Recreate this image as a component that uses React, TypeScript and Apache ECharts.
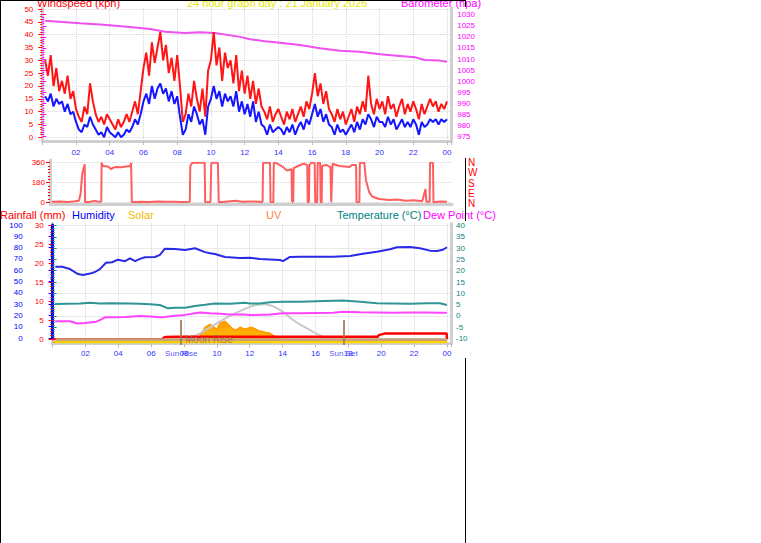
import React, { useEffect, useRef } from "react";
import * as echarts from "echarts";

// ---------- DATA ----------
// wind speed, 10-minute readings from 00:10 to 24:00 (kph)
const windGust = [
  30, 24, 32, 20, 27, 18,
  22, 17, 24, 15, 18, 11,
  8, 6, 12, 9, 21, 14,
  9, 6, 8, 5, 9, 7,
  5, 3, 7, 4, 6, 9,
  6, 10, 14, 9, 18, 27,
  33, 24, 37, 29, 35, 41,
  30, 36, 25, 31, 22, 32,
  20, 6, 9, 17, 12, 22,
  15, 10, 19, 8, 26, 30,
  41, 28, 35, 22, 33, 27,
  30, 21, 32, 18, 26, 17,
  24, 15, 22, 13, 19, 12,
  10, 7, 12, 6, 9, 11,
  8, 5, 10, 7, 11, 6,
  9, 12, 8, 14, 11, 17,
  25, 16, 21, 13, 18, 11,
  9, 6, 11, 7, 10, 5,
  8, 11, 6, 12, 9, 14,
  10, 24, 13, 9, 15, 11,
  14, 9, 16, 11, 13, 8,
  12, 15, 9, 13, 10, 14,
  11, 7, 13, 9, 12, 15,
  12, 14, 10, 13, 11, 14,
];
const windAvg = [
  16, 14, 17, 12, 15, 13,
  14, 10, 13, 9, 10, 6,
  3, 2, 5, 4, 8, 5,
  3, 1, 2, 0, 4, 2,
  1, 0, 2, 0, 1, 3,
  2, 4, 7, 5, 9, 14,
  17, 13, 20, 15, 19, 21,
  17, 19, 14, 18, 13, 16,
  8, 1, 3, 9, 6, 12,
  9, 5, 7, 1, 12, 15,
  20, 15, 18, 12, 17, 14,
  16, 12, 18, 10, 14, 9,
  13, 8, 14, 6, 10, 5,
  4, 1, 5, 2, 3, 4,
  3, 1, 4, 2, 5, 1,
  4, 6, 3, 7, 5, 9,
  13, 8, 11, 6, 9, 5,
  4, 1, 5, 2, 3, 1,
  3, 5, 2, 6, 3, 7,
  5, 9, 7, 4, 8, 6,
  6, 4, 8, 5, 7, 3,
  5, 7, 4, 6, 4, 7,
  5, 1, 6, 4, 5, 7,
  6, 7, 5, 7, 6, 7,
];
const baroTimes = [0.17, 2.24, 3.42, 5.2, 6.39, 7.28, 8.46, 9.35, 10.24, 11.73, 12.32, 13.21, 14.1, 15.28, 16.47, 17.66, 18.84, 20.03, 21.21, 22.1, 22.69, 23.58, 24.0];
const baroValues = [1027.3, 1026.1, 1025.6, 1024.5, 1023.6, 1022.3, 1021.8, 1022.1, 1021.8, 1020.0, 1018.9, 1018.0, 1017.4, 1016.3, 1014.9, 1013.8, 1013.3, 1012.2, 1011.4, 1010.8, 1009.6, 1009.3, 1008.8];

// wind direction [hour, degrees]
const dirPoints: [number, number][] = [
  [0.12, 5], [0.6, 8], [1.1, 3], [1.5, 10], [1.75, 15], [1.85, 80], [1.95, 260], [2.05, 320], [2.1, 345], [2.12, 0],
  [2.4, 5], [2.7, 12], [3.0, 4], [3.1, 8], [3.12, 360], [3.2, 330], [3.5, 325], [3.7, 300], [3.8, 315], [4.0, 320],
  [4.3, 318], [4.6, 325], [4.85, 330], [4.9, 360], [4.95, 0], [5.5, 5], [6.0, 3], [6.5, 8], [7.0, 4], [7.5, 6],
  [8.0, 3], [8.45, 5], [8.48, 330], [8.6, 360], [9.35, 360], [9.38, 0], [9.7, 2], [9.75, 355], [9.85, 360], [10.15, 360],
  [10.2, 0], [10.6, 6], [11.2, 15], [11.6, 5], [12.3, 8], [12.85, 3], [12.88, 360], [13.3, 360], [13.33, 0], [13.5, 0],
  [13.53, 360], [13.7, 355], [14.1, 320], [14.3, 290], [14.6, 300], [14.63, 5], [14.7, 5], [14.73, 310], [15.0, 330], [15.3, 350],
  [15.55, 340], [15.58, 0], [15.65, 0], [15.68, 340], [15.8, 360], [16.0, 360], [16.03, 0], [16.15, 0], [16.18, 360], [16.33, 360],
  [16.36, 0], [16.42, 0], [16.45, 330], [16.7, 340], [16.95, 320], [17.0, 0], [17.08, 350], [17.5, 330], [18.1, 320], [18.25, 340],
  [18.5, 340], [18.53, 0], [18.7, 0], [18.73, 360], [19.0, 360], [19.1, 200], [19.3, 90], [19.5, 50], [19.9, 30], [20.5, 20],
  [21.0, 25], [21.5, 15], [22.0, 18], [22.5, 10], [22.7, 120], [22.75, 5], [22.95, 5], [22.97, 360], [23.15, 360], [23.18, 0],
  [23.6, 8], [24.0, 5],
];

const humTimes = [0.17, 0.57, 1.06, 1.55, 1.85, 2.28, 2.58, 2.88, 3.25, 3.62, 3.98, 4.41, 4.71, 5.02, 5.32, 5.62, 6.23, 6.53, 6.84, 7.45, 8.06, 8.67, 9.28, 9.58, 9.88, 10.49, 11.41, 12.02, 12.62, 13.84, 14.02, 14.45, 15.06, 16.09, 17.07, 18.1, 18.89, 19.74, 20.54, 20.96, 21.75, 22.36, 22.97, 23.4, 23.76, 24.0];
const humValues = [63, 63, 61, 56.6, 55.8, 57, 58.4, 61, 66.6, 67, 69.3, 68, 70.5, 68, 70, 71.4, 71.7, 73.5, 79, 78.8, 77.9, 79.4, 76, 75, 74.3, 71.7, 70.8, 71, 70, 69, 68, 71.7, 72, 72, 72, 72.6, 74.6, 76.4, 78.5, 80.3, 80.5, 79.4, 77.3, 77, 78.1, 80.3];

const tempTimes = [0.15, 1.67, 2.28, 2.88, 3.49, 4.71, 5.32, 5.93, 6.53, 7.02, 7.45, 8.06, 8.67, 9.28, 9.88, 10.8, 11.71, 12.02, 12.62, 13.23, 14.02, 15.06, 16.09, 17.07, 17.67, 18.71, 19.74, 20.72, 21.75, 22.79, 23.58, 24.0];
const tempValues = [5.2, 5.5, 5.8, 5.4, 5.6, 5.4, 5.3, 5.1, 4.8, 3.3, 3.6, 3.6, 4.3, 4.9, 5.5, 5.3, 5.8, 5.5, 5.5, 6.0, 6.2, 6.2, 6.5, 6.7, 6.8, 6.2, 5.6, 5.5, 5.3, 5.6, 5.6, 4.8];

const dewTimes = [0.15, 1.06, 1.49, 1.97, 2.58, 2.88, 3.19, 3.8, 4.41, 5.32, 5.93, 6.53, 6.84, 7.45, 8.06, 8.67, 8.97, 9.58, 10.19, 10.8, 11.71, 12.02, 13.23, 14.02, 15.06, 16.09, 17.07, 17.67, 18.71, 19.74, 20.72, 21.75, 22.79, 23.58, 24.0];
const dewValues = [-2.4, -2.4, -3.4, -3.2, -2.8, -1.9, -0.7, -0.6, -0.5, -0.1, -0.3, -0.6, -0.5, 0, 0.4, 1.1, 1.5, 1.1, 0.9, 0.6, 0.6, 0.3, 0.6, 1.1, 1.1, 1.2, 1.3, 1.8, 1.6, 1.5, 1.3, 1.5, 1.5, 1.3, 1.3];

const rainTimes = [0.0, 6.7, 6.75, 6.9, 7.5, 19.8, 19.85, 20.2, 23.99, 24.0];
const rainValues = [0, 0, 0.4, 0.6, 0.7, 0.7, 1.1, 1.5, 1.5, 0];

const solarTimes = [0.0, 8.36, 8.67, 8.97, 9.28, 9.58, 9.76, 10.0, 10.19, 10.49, 10.68, 10.92, 11.16, 11.41, 11.71, 11.89, 12.14, 12.38, 12.62, 12.93, 13.23, 13.54, 13.84, 14.45, 15.06, 15.67, 16.27, 16.88, 17.18, 24.0];
const solarValues = [0, 0, 10, 60, 150, 180, 160, 130, 190, 210, 180, 140, 120, 150, 130, 140, 150, 130, 110, 100, 90, 60, 30, 20, 15, 10, 8, 3, 0, 0];

const sunCurveTimes = [8.06, 8.97, 9.88, 10.8, 11.71, 12.32, 12.74, 13.23, 14.02, 14.75, 15.48, 16.27, 17.18];
const sunCurveValues = [20, 90, 180, 265, 335, 370, 380, 370, 305, 210, 140, 70, 15];

const uvTimes = [0.17, 24.0];
const uvValues = [0, 0];

const sunRise = 7.83;
const sunSet = 17.7;
const moonRise = 8.06;

const hourLabel = (v: number) =>
  Number.isInteger(v) && v > 0 && v <= 24 && v % 2 === 0 ? String(v % 24).padStart(2, "0") : "";

const FONT = "'Liberation Sans', Arial, sans-serif";
const GREY = "#cfcfcf";
const DOT = { show: true, lineStyle: { color: "#d6d6d6", type: "dotted" as const, width: 1 } };

const P1 = { left: 42.3, width: 408.9 };
const P2 = { left: 50, width: 402 };
const P3 = { left: 52.6, width: 398.4 };

const zip = (a: number[], b: number[]) => a.map((t, i) => [t, b[i]]);

export default function App() {
  const ref = useRef<HTMLDivElement>(null);
  useEffect(() => {
    if (!ref.current) return;
    const chart = echarts.init(ref.current, undefined, { renderer: "svg" });

    const gridBase = { containLabel: false, outerBoundsMode: "none" };
    const grids = [
      { ...P1, top: 8, height: 133 }, // 0 frame p1
      { ...P1, top: 9, height: 128.3 }, // 1 wind
      { ...P1, top: 14.7, height: 122 }, // 2 baro
      { ...P2, top: 160, height: 44 }, // 3 frame p2
      { ...P2, top: 162.7, height: 39.6 }, // 4 dir
      { ...P3, top: 223.5, height: 120 }, // 5 frame p3
      { ...P3, top: 225.7, height: 112.6 }, // 6 temp
      { ...P3, top: 225, height: 113 }, // 7 humidity
      { ...P3, top: 225, height: 114.3 }, // 8 rain
      { ...P3, top: 222.3, height: 120 }, // 9 solar
      { ...P3, top: 219.8, height: 120 }, // 10 uv
      { ...P3, top: 320, height: 25 }, // 11 markers
    ].map((g) => ({ ...gridBase, ...g }));

    const hiddenX = (gi: number, max = 24.25) => ({ type: "value", gridIndex: gi, min: 0, max, show: false });
    const frameX = (gi: number, labels: boolean, margin: number, max = 24.25) => ({
      type: "value",
      gridIndex: gi,
      min: 0,
      max,
      interval: 2,
      axisLine: { show: true, lineStyle: { color: GREY, width: 3 } },
      axisTick: { show: labels, length: 4, lineStyle: { color: "#bdbdbd", width: 1 } },
      axisLabel: labels
        ? { show: true, formatter: hourLabel, color: "#2f2fff", fontSize: 8, fontFamily: FONT, margin }
        : { show: false },
      splitLine: labels ? DOT : { show: false },
    });

    const frameY = (gi: number, pos: string) => ({
      type: "value",
      gridIndex: gi,
      position: pos,
      min: 0,
      max: 1,
      axisLine: { show: true, lineStyle: { color: GREY, width: 3 } },
      axisTick: { show: false },
      axisLabel: { show: false },
      splitLine: { show: false },
    });

    const plain = (v: number) => String(v);
    const scaleY = (gi: number, pos: string, min: number, max: number, interval: number, color: string, margin: number, minorSplit: number, extra: any = {}) => ({
      type: "value",
      gridIndex: gi,
      position: pos,
      min,
      max,
      interval,
      axisLine: { show: false },
      axisTick: { show: true, length: 4, lineStyle: { color, width: 1 } },
      minorTick: { show: true, splitNumber: minorSplit, length: 2, lineStyle: { color, width: 1 } },
      axisLabel: { show: true, color, fontSize: 8, fontFamily: FONT, margin, formatter: plain },
      splitLine: { show: false },
      ...extra,
    });

    const splitOnlyY = (gi: number, min: number, max: number, interval: number) => ({
      type: "value",
      gridIndex: gi,
      min,
      max,
      interval,
      axisLine: { show: false },
      axisTick: { show: false },
      axisLabel: { show: false },
      splitLine: DOT,
    });

    const hiddenY = (gi: number, min: number, max: number) => ({ type: "value", gridIndex: gi, min, max, show: false });

    const xAxis = [
      frameX(0, true, 7),
      hiddenX(1),
      hiddenX(2),
      frameX(3, false, 0, 24.3),
      hiddenX(4, 24.3),
      frameX(5, true, 6),
      hiddenX(6),
      hiddenX(7),
      hiddenX(8),
      hiddenX(9),
      hiddenX(10),
      hiddenX(11),
    ];

    const yAxis = [
      frameY(0, "left"), // 0
      frameY(0, "right"), // 1
      scaleY(1, "left", 0, 50, 5, "#ff0000", 9, 5), // 2 wind
      splitOnlyY(1, 0, 50, 10), // 3
      scaleY(2, "right", 975, 1030, 5, "#ff00ff", 6, 5), // 4 baro
      frameY(3, "left"), // 5
      scaleY(4, "left", 0, 360, 180, "#ff0000", 5, 6, { splitLine: DOT }), // 6 dir
      frameY(5, "left"), // 7
      frameY(5, "right"), // 8
      scaleY(6, "right", -10, 40, 5, "#108585", 5, 5), // 9 temp
      splitOnlyY(6, -10, 40, 10), // 10
      scaleY(7, "left", 0, 100, 10, "#0000ff", 7, 5, {
        offset: 23,
        axisLine: { show: true, lineStyle: { color: "#0000ff", width: 3 } },
      }), // 11 humidity
      scaleY(8, "left", 0, 30, 5, "#ff0000", 9, 5), // 12 rain
      hiddenY(9, 0, 1200), // 13 solar
      hiddenY(10, 0, 16), // 14 uv
      hiddenY(11, 0, 1), // 15 markers
    ];

    const line = (name: string, xi: number, yi: number, data: any[], color: string, width: number, extra: any = {}) => ({
      name,
      type: "line",
      xAxisIndex: xi,
      yAxisIndex: yi,
      data,
      symbol: "none",
      showSymbol: false,
      lineStyle: { color, width },
      itemStyle: { color },
      silent: true,
      ...extra,
    });

    const windTimes = windGust.map((_, i) => (i + 1) / 6);

    const series: any[] = [
      line("Barometer", 2, 4, zip(baroTimes, baroValues), "#f050f0", 2),
      line("Gust", 1, 2, zip(windTimes, windGust), "#ff1515", 2),
      line("Average", 1, 2, zip(windTimes, windAvg), "#1515ff", 2),
      line("Direction", 4, 6, dirPoints, "#ff5e5e", 2),
      line("Solar", 9, 13, zip(solarTimes, solarValues), "#ff9800", 1.5, {
        areaStyle: {
          opacity: 1,
          color: new echarts.graphic.LinearGradient(0, 0, 0, 1, [
            { offset: 0, color: "#ff9a00" },
            { offset: 1, color: "#ffc400" },
          ]),
        },
      }),
      line("SunCurve", 9, 13, zip(sunCurveTimes, sunCurveValues), "#c8c8c8", 2, { smooth: true }),
      line("Humidity", 7, 11, zip(humTimes, humValues), "#2a2ae6", 2),
      line("Temperature", 6, 9, zip(tempTimes, tempValues), "#2f9595", 2),
      line("DewPoint", 6, 9, zip(dewTimes, dewValues), "#ff44ff", 2),
      line("Rain", 8, 12, zip(rainTimes, rainValues), "#ff0000", 2.5),
      line("SolarBase", 9, 13, zip(uvTimes, uvValues), "#ffd400", 2.5),
      line("UV", 10, 14, zip(uvTimes, uvValues), "#c9a07c", 3),
      {
        type: "line",
        xAxisIndex: 11,
        yAxisIndex: 15,
        data: [],
        silent: true,
        markLine: {
          silent: true,
          symbol: "none",
          lineStyle: { color: "#a07a55", width: 2, type: "solid", opacity: 0.85 },
          label: { show: true, position: "start", distance: 4, color: "#2f2fff", fontSize: 8, fontFamily: FONT },
          data: [
            { xAxis: sunRise, label: { formatter: "Sun Rise" } },
            { xAxis: sunSet, label: { formatter: "Sun Set" } },
          ],
        },
      },
      {
        type: "scatter",
        xAxisIndex: 10,
        yAxisIndex: 14,
        data: [[moonRise, 0]],
        symbolSize: 0,
        silent: true,
        z: 20,
        label: {
          show: true,
          position: "right",
          distance: 0,
          formatter: "Moon Rise",
          color: "#9a6a4a",
          fontSize: 10,
          fontFamily: FONT,
        },
      },
    ];

    const title = (text: string, x: number, y: number, color: string) => ({
      type: "text",
      x,
      y,
      z: 50,
      style: { text, fill: color, font: `11px ${FONT}`, textVerticalAlign: "middle" },
    });
    const blk = (x1: number, y1: number, x2: number, y2: number) => ({
      type: "line",
      z: 100,
      shape: { x1, y1, x2, y2 },
      style: { stroke: "#000", lineWidth: 1 },
    });
    const compass = ["N", "W", "S", "E", "N"];

    const graphic: any[] = [
      title("Windspeed (kph)", 37, 3, "#ff0000"),
      title("24 hour graph day : 21 January 2026", 187, 3, "#e6e600"),
      title("Barometer (hpa)", 401, 3, "#ff00ff"),
      title("Rainfall (mm)", 0, 215, "#ff0000"),
      title("Humidity", 72, 215, "#0000ff"),
      title("Solar", 128, 215, "#f5b800"),
      title("UV", 266, 215, "#ff8040"),
      title("Temperature (°C)", 337, 215, "#008080"),
      title("Dew Point (°C)", 423, 215, "#ff00ff"),
      ...compass.map((c, i) => ({
        type: "text",
        x: 468,
        y: 162.5 + i * 10.3,
        z: 50,
        style: { text: c, fill: "#ff0000", font: `10px ${FONT}`, textVerticalAlign: "middle" },
      })),
      blk(0.5, 0, 0.5, 543),
      blk(0, 0.5, 466, 0.5),
      blk(465.5, 0, 465.5, 7),
      blk(465.5, 158, 465.5, 221),
      blk(465.5, 358, 465.5, 543),
    ];

    chart.setOption({
      animation: false,
      backgroundColor: "#ffffff",
      textStyle: { fontFamily: FONT },
      grid: grids,
      xAxis,
      yAxis,
      series,
      graphic,
    });
    return () => chart.dispose();
  }, []);

  return (
    <div
      ref={ref}
      style={{ position: "absolute", left: 0, top: 0, width: 761, height: 543, background: "#fff" }}
    />
  );
}
